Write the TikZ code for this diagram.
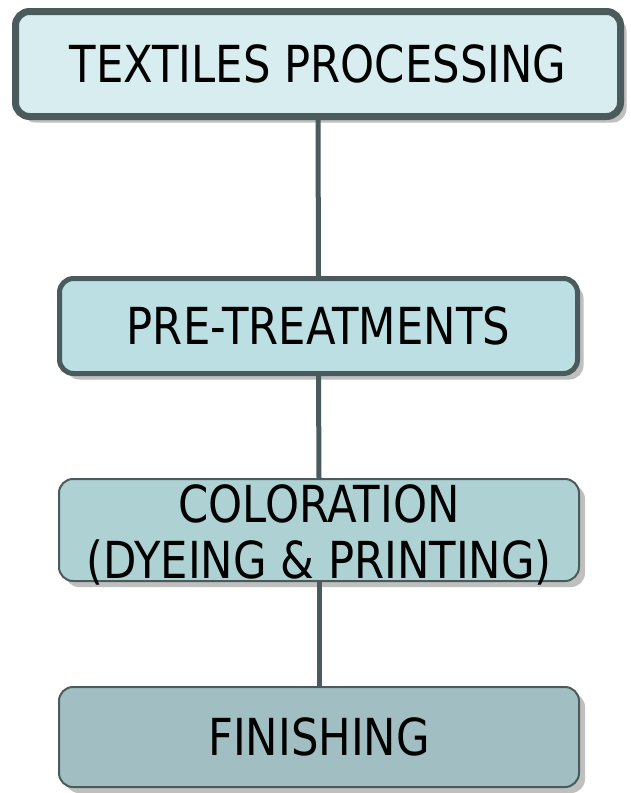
\documentclass[tikz,border=0pt]{standalone}
\usepackage{fontspec}
\setmainfont{DejaVu Sans}[FakeStretch=0.85]
\usetikzlibrary{shadows}
\definecolor{edgegray}{HTML}{4B5A5A}
\definecolor{fillone}{HTML}{D8EDF0}
\definecolor{filltwo}{HTML}{BBDFE3}
\definecolor{fillthree}{HTML}{AED1D4}
\definecolor{fillfour}{HTML}{A1BFC2}
\begin{document}
\begin{tikzpicture}
  [x=1pt,y=-1pt,every node/.style={rectangle,rounded corners=14pt,draw=edgegray,inner sep=0pt,
    font=\fontsize{51}{56}\selectfont,align=center,
    drop shadow={shadow xshift=6pt,shadow yshift=-6pt,fill=black!25,opacity=1}}]
\useasboundingbox (0,0) rectangle (630,793);
  % Etapas del proceso, de arriba abajo
  \node (t1) at (318,64)  [fill=fillone,line width=7pt,minimum width=605pt,minimum height=105pt] {TEXTILES PROCESSING};
  \node (t2) at (318.5,326) [fill=filltwo,line width=5pt,minimum width=518pt,minimum height=95pt] {PRE-TREATMENTS};
  \node (t3) at (319,530) [fill=fillthree,line width=2pt,minimum width=520pt,minimum height=102pt,
    text height=98pt,text depth=2pt] {COLORATION\\(DYEING \& PRINTING)};
  \node (t4) at (319,737) [fill=fillfour,line width=2pt,minimum width=520pt,minimum height=100pt] {FINISHING};

  % Conectores verticales
  \foreach \from/\to in {t1/t2, t2/t3, t3/t4}
    \draw[edgegray,line width=5pt] (\from.south) -- (\to.north);
\end{tikzpicture}
\end{document}
